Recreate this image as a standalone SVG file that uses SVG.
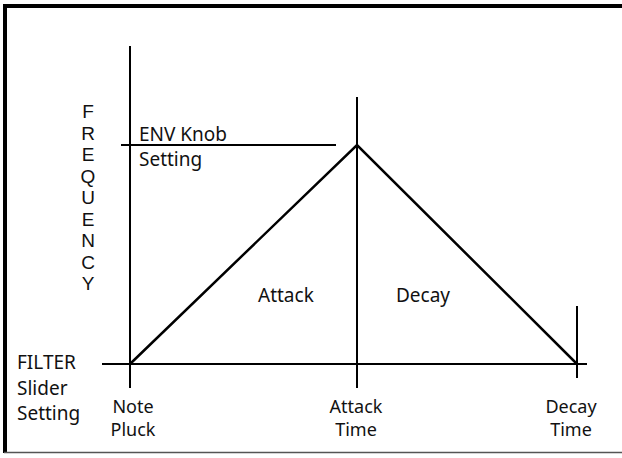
<svg xmlns="http://www.w3.org/2000/svg" width="622" height="458" viewBox="0 0 622 458">
<style>
.ax{stroke:#000;stroke-width:2;fill:none}
.env{stroke:#000;stroke-width:2.5;fill:none;stroke-linejoin:miter}
text{font-family:"Noto Sans","Open Sans",sans-serif;font-size:19px;fill:#111}
.c{text-anchor:middle}
.s{font-size:18px}
.v{font-family:"Liberation Sans",Arial,sans-serif;font-size:19px}
</style>
<rect x="0" y="0" width="622" height="458" fill="#fff"/>
<g id="frame">
<rect x="4" y="4" width="618" height="4" fill="#000"/>
<rect x="3" y="4" width="4" height="449" fill="#000"/>
<line x1="4" y1="452.5" x2="622" y2="452.5" stroke="#555" stroke-width="1.5"/>
</g>
<g id="connectors">
<line class="ax" x1="130" y1="46" x2="130" y2="388"/>
<line class="ax" x1="102" y1="364" x2="587" y2="364"/>
<line class="ax" x1="357" y1="97" x2="357" y2="388"/>
<line class="ax" x1="577" y1="306" x2="577" y2="378"/>
<line class="ax" x1="121" y1="145" x2="336" y2="145"/>
<polyline class="env" points="130,364 357,145 577,364"/>
</g>
<g id="freq-label">
<text class="c v"><tspan x="88" y="118">F</tspan><tspan x="88" dy="21.5">R</tspan><tspan x="88" dy="21.5">E</tspan><tspan x="88" dy="21.5">Q</tspan><tspan x="88" dy="21.5">U</tspan><tspan x="88" dy="21.5">E</tspan><tspan x="88" dy="21.5">N</tspan><tspan x="88" dy="21.5">C</tspan><tspan x="88" dy="21.5">Y</tspan></text>
</g>
<g id="env-label">
<text><tspan x="139" y="141">ENV Knob</tspan><tspan x="139" dy="25">Setting</tspan></text>
</g>
<g id="attack-label"><text x="258" y="302">Attack</text></g>
<g id="decay-label"><text x="396" y="302">Decay</text></g>
<g id="filter-label">
<text><tspan x="17" y="369">FILTER</tspan><tspan x="17" dy="26">Slider</tspan><tspan x="17" dy="25">Setting</tspan></text>
</g>
<g id="note-pluck">
<text class="c s"><tspan x="133" y="413">Note</tspan><tspan x="133" dy="23">Pluck</tspan></text>
</g>
<g id="attack-time">
<text class="c s"><tspan x="356" y="413">Attack</tspan><tspan x="356" dy="23">Time</tspan></text>
</g>
<g id="decay-time">
<text class="c s"><tspan x="571" y="413">Decay</tspan><tspan x="571" dy="23">Time</tspan></text>
</g>
</svg>
